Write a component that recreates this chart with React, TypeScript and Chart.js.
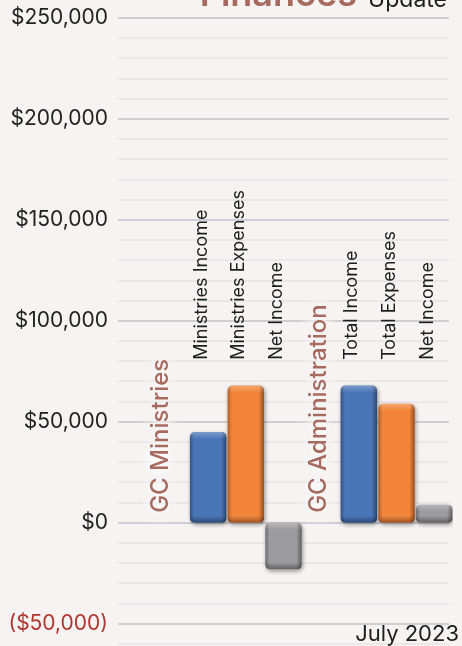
import { useEffect, useRef } from "react";
import { Chart, registerables } from "chart.js";

Chart.register(...registerables);

// ---- data ----
const categories = [
  "",
  "GC Ministries",
  "Ministries Income",
  "Ministries Expenses",
  "Net Income",
  "GC Administration",
  "Total Income",
  "Total Expenses",
  "Net Income",
];
const slotKinds = ["blank", "group", "income", "expense", "net", "group", "income", "expense", "net"];
const amounts: (number | null)[] = [null, null, 45000, 68000, -23000, null, 68000, 59000, 9000];
const axisMin = -60000;
const axisMax = 250000;
const minorStep = 10000;
const majorStep = 50000;
const titleMain = "Finances";
const titleSub = "Update";
const periodLabel = "July 2023";

const FONT = "Inter, 'DejaVu Sans', sans-serif";
const kindColors: Record<string, string> = {
  income: "#4A76B8",
  expense: "#F2853A",
  net: "#9C9C9E",
  group: "transparent",
  blank: "transparent",
};
const brown = "#A66A5F";

function fmt(v: number): string {
  const s = "$" + Math.abs(v).toLocaleString("en-US");
  return v < 0 ? "(" + s + ")" : s;
}

function roundRect(ctx: CanvasRenderingContext2D, x: number, y: number, w: number, h: number, r: number) {
  ctx.beginPath();
  ctx.moveTo(x + r, y);
  ctx.lineTo(x + w - r, y);
  ctx.quadraticCurveTo(x + w, y, x + w, y + r);
  ctx.lineTo(x + w, y + h - r);
  ctx.quadraticCurveTo(x + w, y + h, x + w - r, y + h);
  ctx.lineTo(x + r, y + h);
  ctx.quadraticCurveTo(x, y + h, x, y + h - r);
  ctx.lineTo(x, y + r);
  ctx.quadraticCurveTo(x, y, x + r, y);
  ctx.closePath();
}

const decorPlugin = {
  id: "decor",
  beforeDraw(chart: any) {
    const ctx = chart.ctx as CanvasRenderingContext2D;
    ctx.save();
    ctx.fillStyle = "#F6F3F2";
    ctx.fillRect(0, 0, chart.width, chart.height);
    ctx.restore();
  },
  beforeDatasetsDraw(chart: any) {
    const ctx = chart.ctx as CanvasRenderingContext2D;
    const y = chart.scales.y;
    const x = chart.scales.x;
    const ca = chart.chartArea;
    // grid lines
    ctx.save();
    for (const t of y.ticks) {
      const py = Math.round(y.getPixelForValue(t.value));
      const major = t.value % majorStep === 0;
      ctx.strokeStyle = major ? "#CFCFD3" : "#DCDCDF";
      ctx.lineWidth = major ? 2 : 1.2;
      ctx.beginPath();
      ctx.moveTo(ca.left + 4, py);
      ctx.lineTo(ca.right - 4, py);
      ctx.stroke();
    }
    ctx.restore();
    // group labels with glow
    const zero = y.getPixelForValue(0);
    categories.forEach((c, i) => {
      if (slotKinds[i] !== "group") return;
      const px = x.getPixelForValue(i) + (i === 1 ? -10 : -2);
      ctx.save();
      ctx.translate(px, zero - 10);
      ctx.rotate(-Math.PI / 2);
      ctx.font = `500 24px ${FONT}`;
      ctx.textAlign = "left";
      ctx.textBaseline = "middle";
      ctx.shadowColor = "rgba(255,255,255,1)";
      ctx.shadowBlur = 20;
      ctx.fillStyle = "rgba(255,255,255,0.9)";
      for (let k = 0; k < 5; k++) ctx.fillText(c, 0, 0);
      ctx.shadowBlur = 0;
      ctx.fillStyle = brown;
      ctx.fillText(c, 0, 0);
      ctx.restore();
    });
  },
  beforeDatasetDraw(chart: any) {
    const ctx = chart.ctx as CanvasRenderingContext2D;
    ctx.save();
    ctx.shadowColor = "rgba(0,0,0,0.4)";
    ctx.shadowBlur = 4;
    ctx.shadowOffsetX = 1;
    ctx.shadowOffsetY = 2;
  },
  afterDatasetDraw(chart: any) {
    chart.ctx.restore();
  },
  afterDatasetsDraw(chart: any) {
    const ctx = chart.ctx as CanvasRenderingContext2D;
    const meta = chart.getDatasetMeta(0);
    // bevel overlay
    meta.data.forEach((el: any, i: number) => {
      if (amounts[i] === null) return;
      const { x, y, base, width } = el.getProps(["x", "y", "base", "width"], true);
      const left = x - width / 2;
      const top = Math.min(y, base);
      const h = Math.abs(base - y);
      ctx.save();
      roundRect(ctx, left, top, width, h, 5);
      ctx.clip();
      const g = ctx.createLinearGradient(left, 0, left + width, 0);
      g.addColorStop(0, "rgba(0,0,0,0.3)");
      g.addColorStop(0.12, "rgba(0,0,0,0.0)");
      g.addColorStop(0.85, "rgba(0,0,0,0.0)");
      g.addColorStop(1, "rgba(0,0,0,0.4)");
      ctx.fillStyle = g;
      ctx.fillRect(left, top, width, h);
      const gv = ctx.createLinearGradient(0, top, 0, top + h);
      const e = Math.min(0.5, 7 / Math.max(h, 1));
      gv.addColorStop(0, "rgba(255,255,255,0.28)");
      gv.addColorStop(e, "rgba(255,255,255,0)");
      gv.addColorStop(1 - e, "rgba(0,0,0,0)");
      gv.addColorStop(1, "rgba(0,0,0,0.38)");
      ctx.fillStyle = gv;
      ctx.fillRect(left, top, width, h);
      ctx.restore();
    });
    // category labels
    const xs = chart.scales.x;
    const ys = chart.scales.y;
    const zero = ys.getPixelForValue(0);
    categories.forEach((c, i) => {
      if (amounts[i] === null) return;
      const px = xs.getPixelForValue(i) - 7;
      ctx.save();
      ctx.translate(px, zero - 163);
      ctx.rotate(-Math.PI / 2);
      ctx.font = `400 18px ${FONT}`;
      ctx.textAlign = "left";
      ctx.textBaseline = "middle";
      ctx.fillStyle = "#1E1E1E";
      ctx.fillText(c, 0, 0);
      ctx.restore();
    });
    // title
    ctx.save();
    ctx.textBaseline = "alphabetic";
    ctx.textAlign = "right";
    ctx.font = `400 23px ${FONT}`;
    ctx.fillStyle = "#1E1E1E";
    ctx.fillText(titleSub, 447, 7);
    const subW = ctx.measureText(titleSub).width;
    ctx.font = `600 36px ${FONT}`;
    ctx.fillStyle = brown;
    ctx.fillText(titleMain, 447 - subW - 11, 6);
    // period
    ctx.font = `400 22px ${FONT}`;
    ctx.fillStyle = "#1E1E1E";
    ctx.fillText(periodLabel, 459, 641);
    ctx.restore();
  },
};

export default function App() {
  const ref = useRef<HTMLCanvasElement | null>(null);
  useEffect(() => {
    document.body.style.margin = "0";
    const canvas = ref.current;
    if (!canvas) return;
    const chart = new Chart(canvas, {
      type: "bar",
      data: {
        labels: categories,
        datasets: [
          {
            data: amounts as any,
            backgroundColor: slotKinds.map((k) => kindColors[k]),
            borderRadius: 5,
            borderSkipped: false,
            barPercentage: 0.97,
            categoryPercentage: 1,
          },
        ],
      },
      options: {
        responsive: false,
        animation: false,
        events: [],
        layout: { padding: { top: 18, bottom: 2, right: 9, left: 0 } },
        plugins: { legend: { display: false }, tooltip: { enabled: false }, title: { display: false } },
        scales: {
          x: { display: false, offset: true },
          y: {
            min: axisMin,
            max: axisMax,
            afterFit: (s: any) => {
              s.width = 114;
              s.paddingTop = 0;
              s.paddingBottom = 0;
            },
            grid: { display: false, drawTicks: false },
            border: { display: false },
            ticks: {
              stepSize: minorStep,
              padding: 6,
              autoSkip: false,
              font: { family: FONT, size: 21 },
              color: (c: any) => (c.tick && c.tick.value < 0 ? "#B3352F" : "#222222"),
              callback: (v: any) => (Number(v) % majorStep === 0 ? fmt(Number(v)) : ""),
            },
          },
        },
      },
      plugins: [decorPlugin],
    });
    return () => chart.destroy();
  }, []);
  return (
    <div style={{ width: 462, height: 646, background: "#F6F3F2" }}>
      <canvas ref={ref} width={462} height={646} style={{ display: "block" }} />
    </div>
  );
}
